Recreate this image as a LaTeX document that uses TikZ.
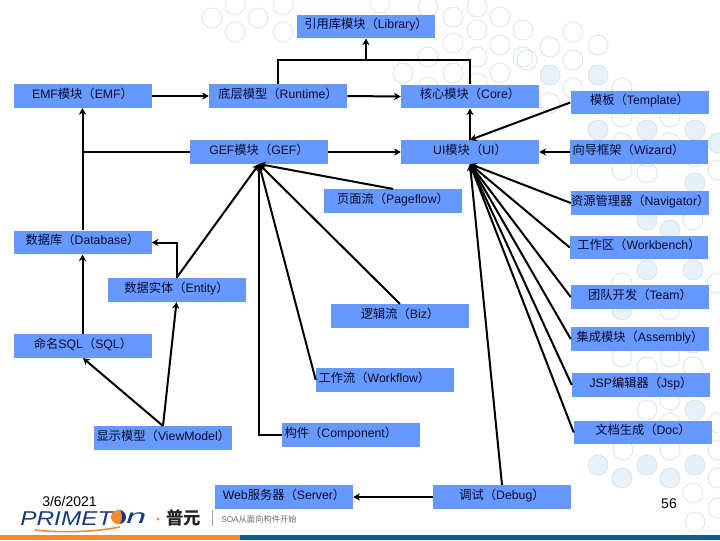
\documentclass[tikz,border=0pt]{standalone}
\usepackage{fontspec}
\setmainfont{Liberation Sans}
\newfontfamily\cjk{Noto Sans CJK SC}
\usepackage{xcolor}
\usepackage{tikz}
\usetikzlibrary{arrows.meta}
\definecolor{BoxBlue}{RGB}{102, 153, 255}
\definecolor{InkNavy}{RGB}{10, 10, 45}
\definecolor{RingGray}{RGB}{220, 230, 238}
\definecolor{RingFill}{RGB}{232, 241, 248}
\definecolor{BandOrange}{RGB}{240, 138, 50}
\definecolor{BandBlue}{RGB}{14, 92, 156}
\definecolor{LogoBlue}{RGB}{22, 60, 120}
\newcommand{\zh}[1]{{\cjk #1}}

\begin{document}
\begin{tikzpicture}[
            x=0.75pt, y=-0.75pt,
            modbox/.style={fill=BoxBlue, text=InkNavy, inner sep=0pt, text width=103.5pt, align=center, text height=10.5pt, text depth=7.2pt, font=\fontsize{9.2}{11}\selectfont},
            tightbox/.style={modbox, align=left, execute at begin node={\hspace*{2pt}}},
            link/.style={line width=1.5pt, black},
            linkarrow/.style={link, -{Stealth[length=5pt, width=5.5pt]}},
            ring/.style={draw=RingGray, line width=0.7pt},
            ringfull/.style={ring, fill=RingFill}
        ]
        \useasboundingbox (0,0) rectangle (720,540);

        % The pattern behind
        \foreach \cx/\cy in {212/18, 235/32, 258/18, 283/32, 235/5, 283/5, 380/3, 428/7, 477/7, 453/17, 500/17, 477/30, 453/43, 500/45, 477/57, 523/30, 523/57, 403/73, 428/57, 428/87, 453/73, 477/83, 500/73, 573/32, 550/47, 598/45, 573/60, 527/60, 573/88, 622/88, 550/103, 622/117, 670/117, 622/143, 670/143, 647/157, 695/157, 622/170, 718/170, 647/173, 693/220, 622/283, 717/283, 670/310, 622/357, 670/357, 693/343, 647/367, 693/367, 647/410, 670/400, 718/423, 670/423, 623/450, 670/450, 718/450, 718/478, 693/493, 695/522, 718/508}
            \draw[ring] (\cx,\cy) circle (10);
        \foreach \cx/\cy in {550/75, 598/75, 598/130, 647/130, 695/130, 718/143, 695/183, 647/220, 670/230, 647/270, 693/270, 622/310, 695/410, 598/465, 622/478, 647/465, 670/478, 695/465}
            \draw[ringfull] (\cx,\cy) circle (10);

        % The footer
        \fill[BandOrange] (0,535) rectangle (240,540);
        \fill[BandBlue] (240,535) rectangle (720,540);

        % The modules
        \node[modbox] (lib) at (366,26.5) {\zh{引用库模块（}Library\zh{）}};
        \node[modbox] (emf) at (82.5,96) {EMF\zh{模块（}EMF\zh{）}};
        \node[modbox] (runtime) at (278,96) {\zh{底层模型（}Runtime\zh{）}};
        \node[modbox] (core) at (470,96.5) {\zh{核心模块（}Core\zh{）}};
        \node[modbox] (template) at (639.5,102.5) {\zh{模板（}Template\zh{）}};
        \node[modbox] (gef) at (259,152) {GEF\zh{模块（}GEF\zh{）}};
        \node[modbox] (ui) at (470,152) {UI\zh{模块（}UI\zh{）}};
        \node[tightbox] (wizard) at (639,152) {\zh{向导框架（}Wizard\zh{）}};
        \node[modbox] (pageflow) at (393,201) {\zh{页面流（}Pageflow\zh{）}};
        \node[modbox] (navigator) at (640,203) {\zh{资源管理器（}Navigator\zh{）}};
        \node[modbox] (database) at (82.5,242.5) {\zh{数据库（}Database\zh{）}};
        \node[modbox] (workbench) at (639,247.5) {\zh{工作区（}Workbench\zh{）}};
        \node[modbox] (entity) at (176.5,290) {\zh{数据实体（}Entity\zh{）}};
        \node[modbox] (team) at (640,297) {\zh{团队开发（}Team\zh{）}};
        \node[modbox] (biz) at (400,316) {\zh{逻辑流（}Biz\zh{）}};
        \node[modbox] (assembly) at (640,339) {\zh{集成模块（}Assembly\zh{）}};
        \node[modbox] (sql) at (83,346) {\zh{命名}SQL\zh{（}SQL\zh{）}};
        \node[tightbox] (workflow) at (385,380) {\zh{工作流（}Workflow\zh{）}};
        \node[modbox] (jsp) at (641,385) {JSP\zh{编辑器（}Jsp\zh{）}};
        \node[tightbox] (viewmodel) at (163,438) {\zh{显示模型（}ViewModel\zh{）}};
        \node[tightbox] (component) at (351,435) {\zh{构件（}Component\zh{）}};
        \node[modbox] (doc) at (643,432.5) {\zh{文档生成（}Doc\zh{）}};
        \node[modbox] (server) at (284,497) {Web\zh{服务器（}Server\zh{）}};
        \node[modbox] (debug) at (502,497) {\zh{调试（}Debug\zh{）}};

        % Top links
        \draw[link] (runtime.north) |- (366,60) coordinate (join) -| (core.north);
        \draw[linkarrow] (join) -- (lib.south);
        \draw[linkarrow] (emf.east) -- (runtime.west);
        \draw[linkarrow] (runtime.east) -- (core.west);
        \draw[linkarrow] (gef.east) -- (ui.west);
        \draw[linkarrow] (ui.north) -- (core.south);
        \draw[linkarrow] (template.west) -- (ui.north);
        \draw[linkarrow] (wizard.west) -- (ui.east);

        % Left links
        \draw[linkarrow] (database.north) -- (emf.south);
        \draw[link] (gef.west) -- (gef.west -| emf.south);
        \draw[linkarrow] (sql.north -| database.south) -- (database.south);
        \draw[linkarrow] (entity.north) |- (database.east);
        \draw[linkarrow] (viewmodel.north) -- (sql.south);
        \draw[linkarrow] (viewmodel.north) -- (entity.south);

        % Links to GEF
        \foreach \from in {pageflow.north, biz.north, workflow.west, entity.north}
            \draw[linkarrow] (\from) -- (gef.south);
        \draw[linkarrow] (component.west) -| (gef.south);

        % Links to UI
        \foreach \from in {navigator, workbench, team, assembly, jsp, doc}
            \draw[linkarrow] (\from.west) -- (ui.south);
        \draw[linkarrow] (debug.north) -- (ui.south);
        \draw[linkarrow] (debug.west) -- (server.east);

        % Date, page number and logo
        \node[font=\fontsize{10.5}{12}\selectfont, text=black, inner sep=0pt] (date) at (69.5,501.5) {3/6/2021};
        \node[font=\fontsize{10.5}{12}\selectfont, text=black, inner sep=0pt] (pagenum) at (669,504) {56};
        \node[font=\fontsize{15}{16}\selectfont\itshape, text=LogoBlue, xscale=1.22, inner sep=0pt, anchor=west] (logo) at (20,518.5) {PRIMET};
        \fill[BandOrange] (118,517) circle (7);
        \fill[LogoBlue] (119,510) arc (-90:90:7) arc (90:-90:3 and 7);
        \node[font=\fontsize{15}{16}\selectfont\itshape, text=LogoBlue, xscale=1.8, inner sep=0pt, anchor=west] (logoend) at (126,518.5) {n};
        \draw[BandOrange, line width=1.2pt] (35,530) .. controls (60,533) and (95,532) .. (120,527);
        \fill[BandOrange] (158,519) circle (1.6);
        \node[font=\fontsize{13}{14}\selectfont\cjk\bfseries, text=black!85, anchor=west, inner sep=0pt] (brand) at (166,518) {普元};
        \draw[gray!70, line width=0.6pt] (212,510) -- (212,526);
        \node[font=\fontsize{6.2}{7}\selectfont, text=black!60, anchor=west, inner sep=0pt] (slogan) at (221,519) {SOA\zh{从面向构件开始}};

\end{tikzpicture}
\end{document}
